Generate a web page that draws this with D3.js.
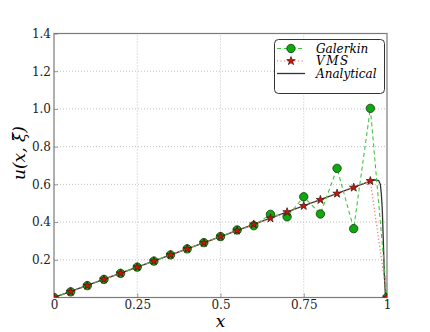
<!DOCTYPE html>
<html>
<head>
<meta charset="utf-8">
<script src="https://cdn.jsdelivr.net/npm/d3@7"></script>
<style>
  body { margin: 0; background: #fff; }
</style>
</head>
<body>
<div id="chart"></div>
<script>
const xNodes = [0, 0.05, 0.1, 0.15, 0.2, 0.25, 0.3, 0.35, 0.4, 0.45, 0.5,
	0.55, 0.6, 0.65, 0.7, 0.75, 0.8, 0.85, 0.9, 0.95, 1];
const galerkin = [0, 0.03, 0.063, 0.096, 0.128, 0.161, 0.193, 0.226, 0.258, 0.291, 0.323,
	0.358, 0.381, 0.441, 0.428, 0.534, 0.443, 0.685, 0.365, 1.003, 0];
const vms = [0, 0.03, 0.063, 0.096, 0.128, 0.161, 0.193, 0.226, 0.258, 0.29, 0.323,
	0.355, 0.388, 0.42, 0.453, 0.486, 0.518, 0.551, 0.583, 0.618, 0];
const analyticalX = [0, 0.5, 0.95, 0.965, 0.975, 0.98, 0.983, 0.986, 0.989, 0.992, 0.995, 1];
const analyticalY = [0, 0.323, 0.617, 0.624, 0.62, 0.6, 0.55, 0.46, 0.3, 0.12, 0.02, 0];
const xTicks = [0, 0.25, 0.5, 0.75, 1];
const xTickLabels = ["0", "0.25", "0.5", "0.75", "1"];
const yTicks = [0.2, 0.4, 0.6, 0.8, 1.0, 1.2, 1.4];

const serif = "DejaVu Serif";
const width = 430;
const height = 332;
const margin = { top: 33.5, right: 43, bottom: 34.5, left: 54 };

const svg = d3.select("#chart")
	.append("svg")
	.attr("width", width)
	.attr("height", height);

const xScale = d3.scaleLinear()
	.domain([0, 1])
	.range([margin.left, width - margin.right]);

const yScale = d3.scaleLinear()
	.domain([0, 1.4])
	.range([height - margin.bottom, margin.top]);

svg.append("clipPath")
	.attr("id", "plot-clip")
	.append("rect")
	.attr("x", xScale(0)).attr("y", yScale(1.4))
	.attr("width", xScale(1) - xScale(0))
	.attr("height", yScale(0) - yScale(1.4));

// grid
svg.append("g")
	.selectAll("line")
	.data(xTicks.slice(1, -1))
	.join("line")
	.attr("x1", d => xScale(d)).attr("x2", d => xScale(d))
	.attr("y1", yScale(0)).attr("y2", yScale(1.4))
	.attr("stroke", "#b0b0b0")
	.attr("stroke-width", 0.8)
	.attr("stroke-dasharray", "1,2");

svg.append("g")
	.selectAll("line")
	.data(yTicks.slice(0, -1))
	.join("line")
	.attr("x1", xScale(0)).attr("x2", xScale(1))
	.attr("y1", d => yScale(d)).attr("y2", d => yScale(d))
	.attr("stroke", "#b0b0b0")
	.attr("stroke-width", 0.8)
	.attr("stroke-dasharray", "1,2");

// axes
const xAxis = svg.append("g")
	.attr("transform", `translate(0, ${yScale(0)})`)
	.call(d3.axisBottom(xScale).tickValues(xTicks)
		.tickFormat((d, i) => xTickLabels[i]).tickSize(-4).tickPadding(3));

const yAxis = svg.append("g")
	.attr("transform", `translate(${xScale(0)}, 0)`)
	.call(d3.axisLeft(yScale).tickValues(yTicks)
		.tickFormat(d3.format(".1f")).tickSize(-4).tickPadding(3));

[xAxis, yAxis].forEach(a => {
	a.attr("font-family", serif).attr("font-size", 12);
	a.select(".domain").remove();
	a.selectAll("line").attr("stroke", "#555").attr("stroke-width", 0.6);
	a.selectAll("text").attr("fill", "#222");
});

// frame
svg.append("rect")
	.attr("x", xScale(0)).attr("y", yScale(1.4))
	.attr("width", xScale(1) - xScale(0))
	.attr("height", yScale(0) - yScale(1.4))
	.attr("fill", "none")
	.attr("stroke", "#7a7a7a")
	.attr("stroke-width", 1.2);

const line = d3.line()
	.x(d => xScale(d[0]))
	.y(d => yScale(d[1]));

const galData = xNodes.map((x, i) => [x, galerkin[i]]);
const vmsData = xNodes.map((x, i) => [x, vms[i]]);
const anaData = analyticalX.map((x, i) => [x, analyticalY[i]]);

const plot = svg.append("g").attr("clip-path", "url(#plot-clip)");

plot.append("path")
	.datum(anaData)
	.attr("d", line)
	.attr("fill", "none")
	.attr("stroke", "#333")
	.attr("stroke-width", 1.3);

plot.append("path")
	.datum(galData)
	.attr("d", line)
	.attr("fill", "none")
	.attr("stroke", "#3cc83c")
	.attr("stroke-width", 1.1)
	.attr("stroke-dasharray", "4,3");

plot.append("path")
	.datum(vmsData)
	.attr("d", line)
	.attr("fill", "none")
	.attr("stroke", "#ff6a6a")
	.attr("stroke-width", 1.2)
	.attr("stroke-dasharray", "1.2,2.3");

plot.append("g")
	.selectAll("circle")
	.data(galData)
	.join("circle")
	.attr("cx", d => xScale(d[0]))
	.attr("cy", d => yScale(d[1]))
	.attr("r", 4.2)
	.attr("fill", "#0fa80f")
	.attr("stroke", "#0a3a0a")
	.attr("stroke-width", 0.8);

const star = d3.symbol().type(d3.symbolStar).size(22);

plot.append("g")
	.selectAll("path")
	.data(vmsData)
	.join("path")
	.attr("transform", d => `translate(${xScale(d[0])}, ${yScale(d[1])})`)
	.attr("d", star)
	.attr("fill", "#d01010")
	.attr("stroke", "#4a1a0a")
	.attr("stroke-width", 0.8);

// labels
svg.append("text")
	.attr("x", xScale(0.5))
	.attr("y", 327)
	.attr("text-anchor", "middle")
	.attr("font-family", serif)
	.attr("font-size", 17)
	.attr("font-style", "italic")
	.text("x");

svg.append("text")
	.attr("transform", "translate(25, 153) rotate(-90)")
	.attr("text-anchor", "middle")
	.attr("font-family", serif)
	.attr("font-size", 17)
	.attr("font-style", "italic")
	.text("u(x, \u03be\u0303)");

// legend
const legend = svg.append("g");
legend.append("rect")
	.attr("x", 274.5).attr("y", 39.5)
	.attr("width", 110).attr("height", 54)
	.attr("rx", 4)
	.attr("fill", "#fff")
	.attr("stroke", "#333")
	.attr("stroke-width", 1);

const rows = [
	{ label: "Galerkin", y: 48.5 },
	{ label: "VMS", y: 61 },
	{ label: "Analytical", y: 73.5 },
];

legend.append("line")
	.attr("x1", 277).attr("x2", 305).attr("y1", rows[0].y).attr("y2", rows[0].y)
	.attr("stroke", "#3cc83c").attr("stroke-width", 1.1).attr("stroke-dasharray", "4,3");
legend.append("circle")
	.attr("cx", 291).attr("cy", rows[0].y).attr("r", 4.2)
	.attr("fill", "#0fa80f").attr("stroke", "#0a3a0a").attr("stroke-width", 0.8);

legend.append("line")
	.attr("x1", 277).attr("x2", 305).attr("y1", rows[1].y).attr("y2", rows[1].y)
	.attr("stroke", "#ff6a6a").attr("stroke-width", 1.2).attr("stroke-dasharray", "1.2,2.3");
legend.append("path")
	.attr("transform", `translate(291, ${rows[1].y})`)
	.attr("d", star)
	.attr("fill", "#d01010").attr("stroke", "#4a1a0a").attr("stroke-width", 0.8);

legend.append("line")
	.attr("x1", 277).attr("x2", 305).attr("y1", rows[2].y).attr("y2", rows[2].y)
	.attr("stroke", "#333").attr("stroke-width", 1.3);

legend.selectAll("text.lab")
	.data(rows)
	.join("text")
	.attr("class", "lab")
	.attr("x", 316)
	.attr("y", d => d.y + 4)
	.attr("font-family", serif)
	.attr("font-size", 12)
	.attr("font-style", "italic")
	.attr("letter-spacing", d => d.label === "VMS" ? 1.5 : 0)
	.text(d => d.label);
</script>
</body>
</html>
